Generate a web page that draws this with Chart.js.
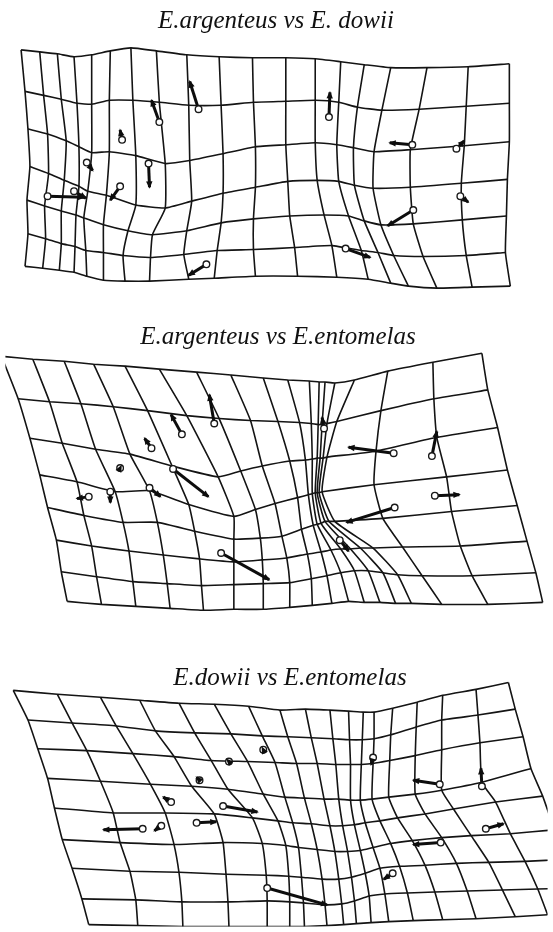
<!DOCTYPE html>
<html><head><meta charset="utf-8">
<script src="https://cdn.jsdelivr.net/npm/chart.js@4/dist/chart.umd.min.js"></script>
<style>
html,body{margin:0;padding:0;background:#fff;}
#wrap{position:relative;width:553px;height:932px;overflow:hidden;background:#fff;}
#c{position:absolute;left:0;top:0;}
.ttl{position:absolute;width:553px;text-align:center;font-family:"Liberation Serif","Times New Roman",serif;font-style:italic;color:#111;white-space:pre;}
</style></head><body>
<div id="wrap"><canvas id="c" width="553" height="932"></canvas></div>
<script>
// ---------- titles ----------
const titles = ["E.argenteus vs E. dowii", "E.argenteus vs E.entomelas", "E.dowii vs E.entomelas"];

// ---------- panel 1 : E.argenteus vs E. dowii ----------
// x of each vertical grid line at each horizontal line (top -> bottom)
const p1ColX = [
 [16,20,23,25,22,23,20],[35,39,43,44,40,41,38],[53,57,62,60,57,57,55],[70,73,75,75,72,71,70],
 [88,88,88,84,80,82,83],[107,106,106,103,100,100,100],[128,130,133,133,125,120,122],[154,157,163,163,150,148,147],
 [185,187,188,190,185,182,187],[218,220,222,222,220,216,213],[252,253,255,255,253,253,255],[286,286,286,288,290,295,298],
 [316,316,316,318,325,333,338],[342,340,338,340,350,363,370],[366,359,355,356,366,380,393],[393,384,376,375,383,396,411],
 [430,422,413,413,416,426,440],[472,470,468,465,466,470,476],[514,514,514,512,511,510,515]
];
// y of each horizontal grid line at each vertical line (left -> right)
const p1RowY = [
 [45,47,49,52,50,46,43,46,50,52,53,53,54,57,60,63,63,62,59],
 [87,91,95,99,100,96,96,98,101,101,98,97,96,98,103,106,105,102,99],
 [125,130,137,143,149,148,152,160,157,150,143,141,139,141,144,148,146,142,138],
 [163,170,177,183,188,192,202,205,198,190,184,178,177,178,182,185,184,180,176],
 [197,203,208,212,215,222,228,232,228,220,216,213,212,213,218,222,221,217,213],
 [231,236,241,244,248,250,253,255,252,248,247,245,243,248,250,253,254,253,250],
 [264,266,268,270,274,278,279,279,277,276,274,274,275,277,281,284,286,285,284]
];
const p1Landmarks = [[197,105],[157,118],[119,136],[83,159],[146,160],[43,193],[70,188],[117,183],[205,262],[330,113],[415,141],[460,145],[416,207],[464,193],[347,246]];
const p1Targets   = [[188,77],[149,96],[117,126],[89,167],[147,184],[80,194],[82,195],[107,197],[187,273],[331,88],[392,139],[468,137],[390,223],[472,199],[372,255]];

// ---------- panel 2 : E.argenteus vs E.entomelas ----------
const p2ColX = [
 [-4,13,25,35,43,52,57,63],[28,45,58,73,80,88,93,98],[60,77,92,112,120,126,130,133],[90,110,127,147,155,161,165,168],
 [122,145,170,187,193,198,200,202],[157,185,217,233,233,233,233,233],[195,218,240,255,260,262,263,263],[230,250,262,275,282,287,290,290],
 [263,278,290,298,302,308,312,313],[288,300,306,309,314,322,328,333],[310,312,313,313,318,332,342,350],[320,319,318,316,322,342,356,366],
 [326,323,321,318,326,352,370,382],[336,328,324,320,330,362,385,398],[356,338,328,323,336,375,400,414],[390,383,378,376,385,405,425,445],
 [436,437,440,450,455,464,476,492],[486,492,502,512,522,532,541,548]
];
const p2RowY = [
 [355,358,360,363,365,368,371,374,377,379,380,381,381,382,379,370,361,352],
 [398,401,403,406,410,415,418,420,421,422,423,424,424,423,421,410,398,389],
 [438,443,449,454,466,477,471,466,461,460,459,458,458,458,457,451,437,427],
 [475,482,492,491,505,517,510,504,498,495,494,493,493,493,492,485,477,470],
 [508,516,523,523,532,540,539,537,530,526,525,524,522,522,522,519,512,506],
 [541,547,552,556,560,563,561,559,555,553,551,550,550,549,549,548,547,542],
 [573,578,583,585,587,586,585,584,580,577,574,572,572,574,576,577,577,574],
 [603,606,608,610,612,611,611,609,607,605,603,604,604,605,605,606,606,604]
];
const p2Landmarks = [[213,423],[180,434],[149,448],[117,468],[171,469],[85,497],[107,492],[147,488],[220,554],[325,428],[396,453],[435,456],[397,508],[438,496],[341,541]];
const p2Targets   = [[208,394],[169,414],[142,438],[118,466],[207,497],[73,499],[107,503],[158,497],[269,581],[323,417],[350,447],[440,431],[348,523],[463,495],[350,552]];

// ---------- panel 3 : E.dowii vs E.entomelas ----------
const p3ColX = [
 [8,23,33,43,50,58,68,78,85],[53,68,83,97,110,117,127,133,135],[97,113,130,148,163,172,177,180,181],
 [137,153,172,190,213,222,225,227,228],[177,193,210,227,252,262,266,267,267],[213,230,247,263,278,286,289,290,290],
 [248,262,275,285,293,299,302,304,305],[280,288,297,305,312,318,323,326,328],[306,312,318,325,331,336,340,343,345],
 [331,334,337,340,344,349,353,356,358],[350,351,352,352,356,362,367,371,373],[365,364,363,362,367,375,382,387,391],
 [376,376,375,374,382,393,402,410,416],[395,393,392,391,400,415,428,438,446],[420,419,418,418,428,445,460,471,480],
 [446,445,445,445,457,475,493,507,520],[480,482,484,486,500,515,530,543,553],[513,520,528,536,548,560,572,584,595]
];
const p3RowY = [
 [693,697,700,703,706,707,709,713,712,713,714,715,715,711,705,698,692,685],
 [723,726,729,734,736,737,739,740,741,742,743,743,742,738,730,723,718,712],
 [752,754,757,760,764,765,766,767,767,768,768,768,767,764,759,753,746,740],
 [782,785,788,790,793,798,801,802,803,803,804,804,803,801,798,794,786,772],
 [812,817,817,818,822,825,827,828,830,830,829,827,825,822,818,813,806,800],
 [844,847,849,847,848,850,852,854,856,856,855,852,848,845,842,840,838,834],
 [873,876,877,879,880,881,882,884,884,882,878,873,871,870,868,867,866,864],
 [904,905,907,907,906,907,908,910,909,906,901,899,898,897,896,895,894,893],
 [930,931,932,932,932,932,932,931,930,929,928,927,926,925,924,922,920,918]
];
const p3Landmarks = [[198,784],[228,765],[263,753],[375,761],[443,788],[486,790],[169,806],[222,810],[195,827],[140,833],[159,830],[267,893],[490,833],[444,847],[395,878]];
const p3Targets   = [[195,781],[226,763],[262,751],[373,768],[416,784],[485,772],[161,801],[257,816],[215,826],[100,834],[152,835],[328,910],[508,828],[416,849],[386,884]];

// ---------- layout (not data) ----------
const layout = {
  titleCenterX: [276, 278, 290],
  titleBaseline: [28, 344, 685],
  titleSize: [25, 25, 25]
};
const INK = '#141414';

// titles as real text
const wrap = document.getElementById('wrap');
titles.forEach((t, i) => {
  const d = document.createElement('div');
  d.className = 'ttl';
  const fs = layout.titleSize[i];
  d.style.fontSize = fs + 'px';
  d.style.lineHeight = fs + 'px';
  d.style.left = (layout.titleCenterX[i] - 276.5) + 'px';
  d.style.top = (layout.titleBaseline[i] - 0.8375 * fs) + 'px';
  d.textContent = t;
  wrap.appendChild(d);
});

const panels = [
  {colX: p1ColX, rowY: p1RowY, lm: p1Landmarks, tg: p1Targets},
  {colX: p2ColX, rowY: p2RowY, lm: p2Landmarks, tg: p2Targets},
  {colX: p3ColX, rowY: p3RowY, lm: p3Landmarks, tg: p3Targets}
];

const landmarkSets = [], arrowSets = [], gridSets = [];
panels.forEach(p => {
  const nR = p.rowY.length, nC = p.colX.length;
  for (let r = 0; r < nR; r++) {
    const data = [];
    for (let c = 0; c < nC; c++) data.push({x: p.colX[c][r], y: p.rowY[r][c]});
    gridSets.push({data, showLine: true, borderColor: INK, borderWidth: 1.6, tension: 0.15, pointRadius: 0, order: 3});
  }
  for (let c = 0; c < nC; c++) {
    const data = [];
    for (let r = 0; r < nR; r++) data.push({x: p.colX[c][r], y: p.rowY[r][c]});
    gridSets.push({data, showLine: true, borderColor: INK, borderWidth: 1.6, tension: 0.15, pointRadius: 0, order: 3});
  }
  p.lm.forEach((l, i) => {
    arrowSets.push({data: [{x: l[0], y: l[1]}, {x: p.tg[i][0], y: p.tg[i][1]}], showLine: true,
      borderColor: '#0d0d0d', borderWidth: 3, pointRadius: 0, tension: 0, order: 2, isArrow: true});
  });
  landmarkSets.push({data: p.lm.map(l => ({x: l[0], y: l[1]})), showLine: false, pointRadius: 3.3,
    pointBorderWidth: 1.4, pointBackgroundColor: '#fff', pointBorderColor: '#1a1a1a', order: 1});
});

const arrowHeads = {
  id: 'arrowHeads',
  afterDatasetsDraw(chart) {
    const ctx = chart.ctx;
    ctx.save();
    ctx.fillStyle = '#0d0d0d';
    chart.data.datasets.forEach((ds, i) => {
      if (!ds.isArrow) return;
      const pts = chart.getDatasetMeta(i).data;
      const a = pts[0], b = pts[1];
      const dx = b.x - a.x, dy = b.y - a.y, L = Math.hypot(dx, dy) || 1;
      const ux = dx / L, uy = dy / L, hl = 6, hw = 3.2;
      ctx.beginPath();
      ctx.moveTo(b.x + ux * 1.5, b.y + uy * 1.5);
      ctx.lineTo(b.x - ux * hl - uy * hw, b.y - uy * hl + ux * hw);
      ctx.lineTo(b.x - ux * hl + uy * hw, b.y - uy * hl - ux * hw);
      ctx.closePath();
      ctx.fill();
    });
    ctx.restore();
  }
};

new Chart(document.getElementById('c'), {
  type: 'scatter',
  data: {datasets: [...landmarkSets, ...arrowSets, ...gridSets]},
  options: {
    responsive: false, animation: false, devicePixelRatio: 1, events: [],
    layout: {padding: 0},
    plugins: {legend: {display: false}, tooltip: {enabled: false}, title: {display: false}},
    scales: {
      x: {type: 'linear', min: 0, max: 553, display: false},
      y: {type: 'linear', min: 0, max: 932, reverse: true, display: false}
    }
  },
  plugins: [arrowHeads]
});
</script>
</body></html>
